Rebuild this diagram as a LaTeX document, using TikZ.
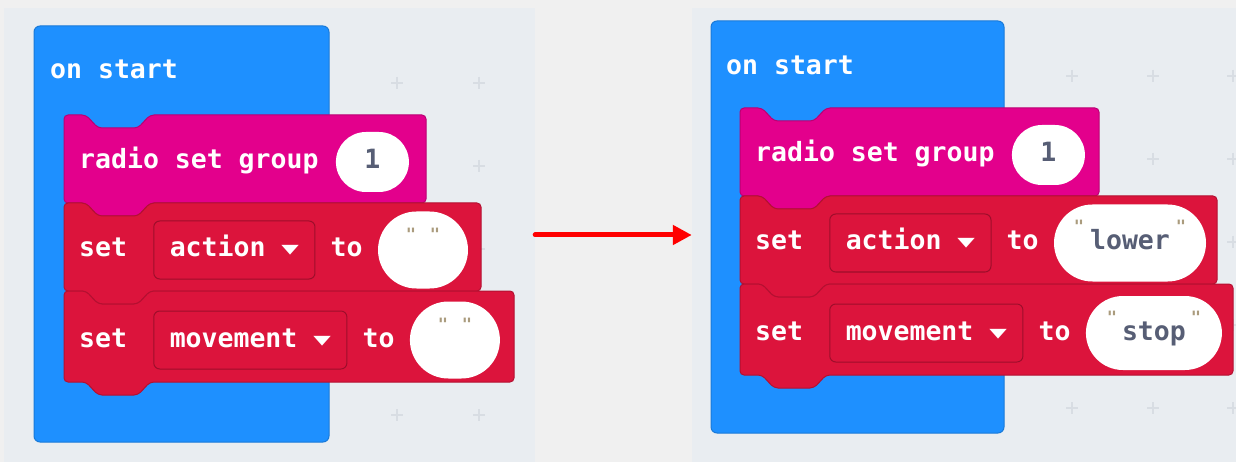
\documentclass[tikz,border=0pt]{standalone}
\usepackage{fontspec}
\newfontfamily\blockfont{DejaVu Sans Mono}
\usetikzlibrary{positioning,shapes.misc,arrows.meta}
\definecolor{pagegrey}{RGB}{240,240,240}
\definecolor{workspace}{RGB}{233,237,241}
\definecolor{crossgrey}{RGB}{216,221,227}
\definecolor{eventblue}{RGB}{30,144,255}
\definecolor{radiopink}{RGB}{227,0,140}
\definecolor{varred}{RGB}{220,20,60}
\definecolor{valgrey}{RGB}{87,94,117}
\definecolor{quotetan}{RGB}{170,155,125}
\newcommand{\stackblock}[5]{%
  \filldraw[fill=#5, draw=#5!82!black, line width=1pt, rounded corners=4pt]
  (#1,#2) -- (#1+22,#2) -- (#1+34,#2+13) -- (#1+74,#2+13) -- (#1+86,#2)
  -- (#3,#2) -- (#3,#4) -- (#1+86,#4) -- (#1+74,#4+13) -- (#1+34,#4+13)
  -- (#1+22,#4) -- (#1,#4) -- cycle;}
\newcommand{\dropmark}{\raisebox{2pt}{\scalebox{1.1}[0.62]{▼}}}

\begin{document}
\begin{tikzpicture}[x=1pt,y=-1pt]
      \tikzstyle{panel} = [rectangle, fill=workspace, inner sep=0pt]
      \tikzstyle{cross} = [crossgrey, line width=1.5pt]
      \tikzstyle{lbl} = [text=white, font=\blockfont\bfseries\fontsize{26.5}{30}\selectfont,
        inner sep=0pt, text height=21pt, text depth=7pt, anchor=west]
      \tikzstyle{dropbox} = [lbl, fill=varred, draw=varred!72!black, line width=1pt,
        rounded corners=6pt, inner xsep=16pt, minimum height=58pt]
      \tikzstyle{strval} = [lbl, rounded rectangle, fill=white, text=valgrey, minimum height=77pt]
      \tikzstyle{numval} = [strval, minimum width=73pt, minimum height=60pt]
      \tikzstyle{quote} = [text=quotetan, font=\blockfont\bfseries\fontsize{17}{18}\selectfont, inner sep=0pt]
      \fill[pagegrey] (0,0) rectangle (1236,462);
      \useasboundingbox (0,0) rectangle (1236,462);
      \node[panel, minimum width=531pt, minimum height=454pt] (leftpanel) at (269.5,235) {};
      \node[panel, minimum width=544pt, minimum height=454pt] (rightpanel) at (964,235) {};
      \begin{scope}
        \foreach \x in {397,479}
          \foreach \y in {83,166,249,332,415}
            \draw[cross] (\x-6,\y) -- (\x+6,\y) (\x,\y-6) -- (\x,\y+6);
        \filldraw[fill=eventblue, draw=eventblue!85!black, line width=1pt, rounded corners=6pt]
        (34,26) rectangle (329,442);
        \stackblock{64}{115}{426}{203}{radiopink}
        \stackblock{64}{203}{481}{291}{varred}
        \stackblock{64}{291}{514}{382}{varred}
        \node[lbl] (start) at (50,72) {on start};
        \node[lbl] (grp) at (79,162) {radio set group};
        \node[numval, right=17pt of grp] (grpval) {1};
        \node[lbl] (set1) at (79,250) {set};
        \node[dropbox, right=26pt of set1] (var1) {action \dropmark};
        \node[lbl, right=15pt of var1] (to1) {to};
        \node[strval, minimum width=90pt, right=15pt of to1] (val1) {};
        \node[quote] (q1a) at ([xshift=-12pt,yshift=-23pt]val1.north) {"};
        \node[quote] (q1b) at ([xshift=12pt,yshift=-23pt]val1.north) {"};
        \node[lbl] (set2) at (79,340) {set};
        \node[dropbox, right=26pt of set2] (var2) {movement \dropmark};
        \node[lbl, right=15pt of var2] (to2) {to};
        \node[strval, minimum width=90pt, right=15pt of to2] (val2) {};
        \node[quote] (q2a) at ([xshift=-12pt,yshift=-23pt]val2.north) {"};
        \node[quote] (q2b) at ([xshift=12pt,yshift=-23pt]val2.north) {"};
      \end{scope}
      \begin{scope}[xshift=676pt, yshift=7pt]
        \foreach \x in {396,477,557}
          \foreach \y in {83,166,249,332,415}
            \draw[cross] (\x-6,\y) -- (\x+6,\y) (\x,\y-6) -- (\x,\y+6);
        \filldraw[fill=eventblue, draw=eventblue!85!black, line width=1pt, rounded corners=6pt]
        (35,28) rectangle (328,440);
        \stackblock{64}{115}{423}{203}{radiopink}
        \stackblock{64}{203}{541}{291}{varred}
        \stackblock{64}{291}{557}{382}{varred}
        \node[lbl] (startb) at (50,75) {on start};
        \node[lbl] (grpb) at (79,162) {radio set group};
        \node[numval, right=17pt of grpb] (grpvalb) {1};
        \node[lbl] (set1b) at (79,250) {set};
        \node[dropbox, right=26pt of set1b] (var1b) {action \dropmark};
        \node[lbl, right=15pt of var1b] (to1b) {to};
        \node[strval, minimum width=152pt, right=15pt of to1b] (val1b) {lower};
        \node[quote] (q1c) at ([xshift=-51pt,yshift=-22pt]val1b.north) {"};
        \node[quote] (q1d) at ([xshift=51pt,yshift=-22pt]val1b.north) {"};
        \node[lbl] (set2b) at (79,340) {set};
        \node[dropbox, right=26pt of set2b] (var2b) {movement \dropmark};
        \node[lbl, right=15pt of var2b] (to2b) {to};
        \node[strval, minimum width=136pt, minimum height=74pt, right=15pt of to2b] (val2b) {stop};
        \node[quote] (q2c) at ([xshift=-42pt,yshift=-22pt]val2b.north) {"};
        \node[quote] (q2d) at ([xshift=42pt,yshift=-22pt]val2b.north) {"};
      \end{scope}
      \draw[red, line width=5pt, line cap=round, -{Triangle[length=19pt,width=19pt]}]
      (leftpanel.east) -- (rightpanel.west);
\end{tikzpicture}
\end{document}
